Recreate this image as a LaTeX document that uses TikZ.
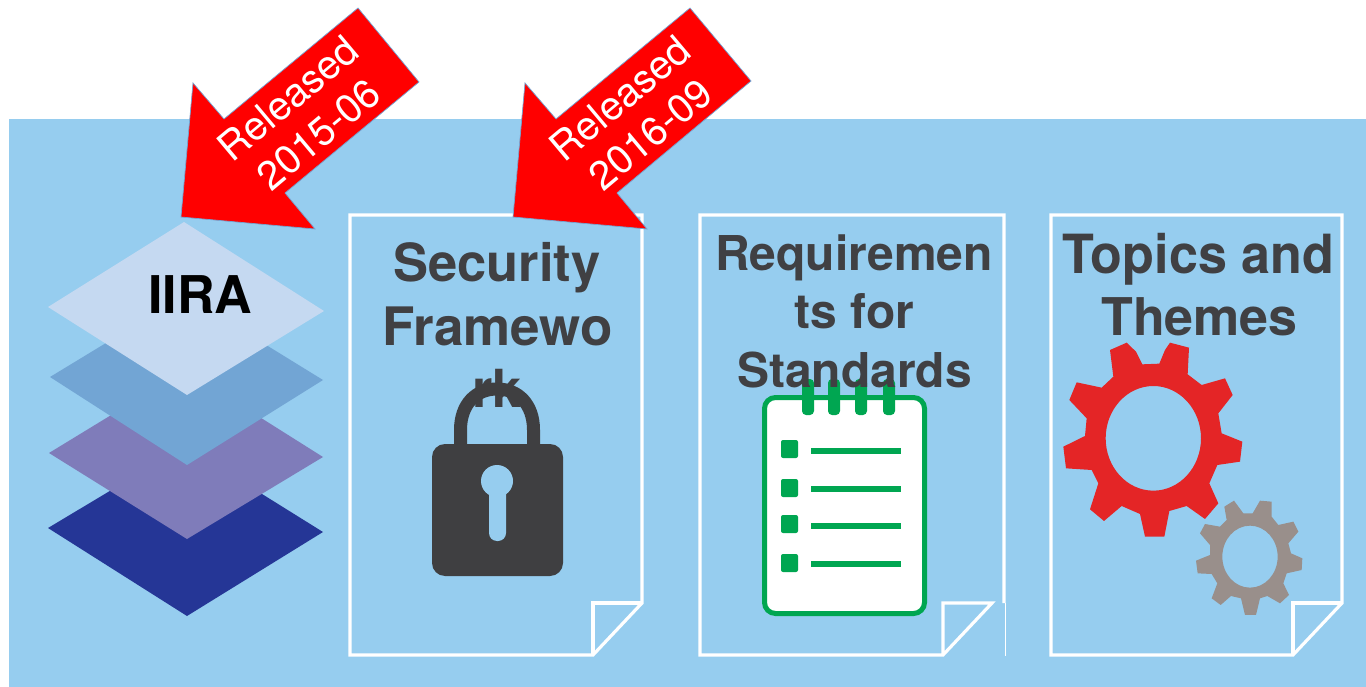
\documentclass[tikz,border=0pt]{standalone}
\usepackage{graphicx}
\usepackage{fontspec}
\setmainfont{TeX Gyre Heros}
\definecolor{bgblue}{HTML}{96CDEF}
\definecolor{txtgray}{HTML}{404043}
\definecolor{lockgray}{HTML}{3F3F41}
\definecolor{lay1}{HTML}{C5D9F1}
\definecolor{lay2}{HTML}{72A5D4}
\definecolor{lay3}{HTML}{7F7CBA}
\definecolor{lay4}{HTML}{253696}
\definecolor{listgreen}{HTML}{00A651}
\definecolor{gearred}{HTML}{E42526}
\definecolor{geargray}{HTML}{998F8B}
\tikzset{
  x=1pt,y=-1pt,
  pageline/.style={draw=white,line width=3.2pt,line join=miter},
  headbase/.style={font=\bfseries\fontsize{#1}{#1}\selectfont,text=txtgray,inner sep=0pt,anchor=base},
  releasearrow/.style={fill=red,draw=lay2,line width=0.7pt,line join=miter},
  releasetext/.style={font=\fontsize{40}{47}\selectfont,text=white,align=center,rotate=40,inner sep=0pt},
  zoomframe/.style={x=0.33333pt,y=-0.33333pt},
}
\begin{document}
\begin{tikzpicture}
\useasboundingbox (0,0) rectangle (1366,687);
\fill[white] (0,0) rectangle (1366,687);
\fill[bgblue] (9,119) rectangle (1366,687);
% layers
\fill[lay4] (185,446) -- (323,532) -- (187,616) -- (48,528) -- cycle;
\fill[lay3] (185,370) -- (323,457) -- (187,539) -- (49,453) -- cycle;
\fill[lay2] (185,295) -- (323,380) -- (187,465) -- (50,377) -- cycle;
\fill[lay1] (184,222) -- (324,311) -- (187,395) -- (48,307) -- cycle;
\node[font=\bfseries\fontsize{52}{52}\selectfont,text=black,inner sep=0pt,anchor=base] (iira) at (200.5,313) {IIRA};
% pages
\draw[pageline] (350,215) -- (642,215) -- (642,603) -- (593,655) -- (350,655) -- cycle;
\draw[pageline] (593,655) -- (593,603) -- (642,603);
\draw[pageline] (1004,603) -- (1004,215) -- (700,215) -- (700,655) -- (943,655) -- (992,603) -- (943,603) -- (943,655);
\draw[white,line width=1pt] (1005,603) -- (1005,656);
\draw[pageline] (1051,215) -- (1342,215) -- (1342,603) -- (1293,655) -- (1051,655) -- cycle;
\draw[pageline] (1293,655) -- (1293,603) -- (1342,603);
% headings of the first page, under the lock
\node[headbase=52.5] (sec1) at (497,282) {Security};
\node[headbase=53] (sec2) at (497.5,345) {Framewo};
\node[headbase=52.5] (sec3) at (497,407) {rk};
% lock
\draw[lockgray,line width=13pt] (460.5,450) -- (460.5,430) .. controls (460.5,404) and (476,389) .. (497,389) .. controls (518,389) and (533.5,404) .. (533.5,430) -- (533.5,450);
\fill[lockgray,rounded corners=13pt] (432,444) rectangle (563,576);
\fill[bgblue] (497,481) circle[radius=16];
\fill[bgblue,rounded corners=8pt] (489,485) rectangle (506,541);
% notepad
\draw[listgreen,fill=white,line width=5pt,rounded corners=11pt] (764.5,397.5) rectangle (924.5,613.5);
\foreach \x in {808,834,861,889}{\fill[listgreen,rounded corners=4pt] (\x-6,379) rectangle (\x+6,415);}
\foreach \y/\b in {449/451,488/489,524/526,563/564}{
  \fill[listgreen,rounded corners=2pt] (781,\y-9) rectangle (798,\y+9);
  \fill[listgreen] (811,\b-3) rectangle (901,\b+3);
}
% remaining headings
\node[headbase=48] (req1) at (854,270) {Requiremen};
\node[headbase=48] (req2) at (854.5,328) {ts for};
\node[headbase=48] (req3) at (854.5,387) {Standards};
\node[headbase=54] (top1) at (1198.5,273) {\scalebox{0.965}[1]{Topics and}};
\node[headbase=52] (top2) at (1199.5,335) {Themes};
% gears
\begin{scope}[shift={(1030,320)},zoomframe]
\fill[gearred,even odd rule] (240,90) -- (290,68) -- (318,95) -- (337,133) -- (388,131) -- (405,90) -- (420,68) -- (477,83) -- (473,163) -- (515,195) -- (585,175) -- (608,225) -- (565,280) -- (575,340) -- (637,365) -- (630,425) -- (562,435) -- (538,490) -- (565,550) -- (525,597) -- (470,558) -- (418,573) -- (403,650) -- (345,650) -- (330,582) -- (275,558) -- (222,603) -- (180,568) -- (205,490) -- (185,450) -- (108,445) -- (100,380) -- (165,348) -- (170,295) -- (118,240) -- (140,187) -- (215,203) -- (250,170) -- cycle
  (370,355) ellipse[x radius=143,y radius=157];
\fill[geargray,even odd rule] (583,560) -- (612,542) -- (640,580) -- (668,580) -- (690,542) -- (725,545) -- (725,590) -- (745,615) -- (790,605) -- (805,635) -- (775,670) -- (783,700) -- (817,715) -- (815,750) -- (770,760) -- (760,790) -- (777,825) -- (750,850) -- (712,828) -- (690,835) -- (678,885) -- (645,885) -- (633,835) -- (603,828) -- (572,855) -- (545,835) -- (562,790) -- (545,762) -- (503,760) -- (498,722) -- (540,705) -- (540,675) -- (510,640) -- (525,612) -- (570,620) -- (590,600) -- cycle
  (660,710) ellipse[x radius=83,y radius=93];
\end{scope}
% arrows
\draw[releasearrow] (358,8) -- (419,82) -- (285,193) -- (315,229) -- (181,217) -- (193,83) -- (224,119) -- cycle;
\draw[releasearrow] (690,8) -- (751,81) -- (617,193) -- (647,229) -- (513,217) -- (525,83) -- (556,119) -- cycle;
\node[releasetext] (rel1) at (303,116) {Released\\2015-06};
\node[releasetext] (rel2) at (635,116) {Released\\2016-09};
\end{tikzpicture}
\end{document}
